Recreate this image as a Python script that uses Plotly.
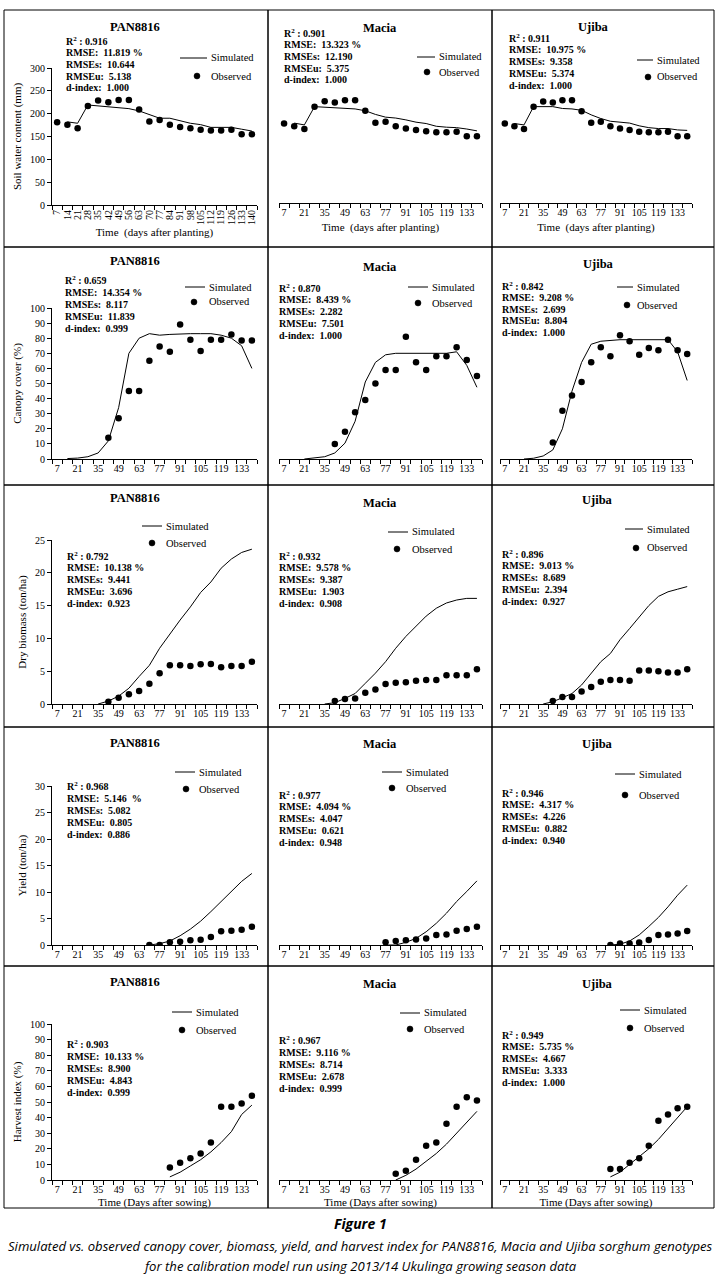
import plotly.graph_objects as go

# ---------------- DATA ----------------
sw_days = [7, 14, 21, 28, 35, 42, 49, 56, 63, 70, 77, 84, 91, 98, 105, 112, 119, 126, 133, 140]
sw_sim_days = [14, 21, 28, 35, 42, 49, 56, 63, 70, 77, 84, 91, 98, 105, 112, 119, 126, 133, 140]
sw_pan_obs = [181, 176, 168, 217, 229, 225, 230, 230, 209, 183, 186, 176, 171, 168, 165, 163, 163, 165, 155, 155]
sw_pan_sim = [182, 179, 219, 217, 216, 214, 211, 206, 198, 190, 190, 184, 179, 176, 170, 170, 170, 166, 162]
sw_mac_obs = [174, 168, 162, 211, 223, 220, 225, 225, 202, 176, 178, 168, 163, 160, 157, 155, 155, 156, 146, 146]
sw_mac_sim = [175, 171, 211, 210, 209, 207, 206, 202, 194, 188, 186, 182, 177, 174, 168, 166, 165, 162, 158]
sw_uji_obs = [174, 168, 162, 211, 222, 220, 225, 225, 201, 176, 178, 168, 163, 160, 156, 155, 155, 156, 146, 146]
sw_uji_sim = [174, 171, 211, 211, 211, 207, 206, 203, 193, 185, 179, 177, 175, 169, 165, 163, 163, 160, 159]

cc_obs_days = [42, 49, 56, 63, 70, 77, 84, 91, 98, 105, 112, 119, 126, 133, 140]
cc_sim_days_pan = [14, 21, 28, 35, 42, 49, 56, 63, 70, 77, 84, 91, 98, 105, 112, 119, 126, 133, 140]
cc_sim_days = [21, 28, 35, 42, 49, 56, 63, 70, 77, 84, 91, 98, 105, 112, 119, 126, 133, 140]
cc_pan_obs = [14, 27, 45, 45, 65, 74.5, 71, 89, 79, 71.5, 79, 79, 82.5, 78.5, 78.5]
cc_pan_sim = [0.3, 0.6, 1.5, 4, 12, 34, 70, 80, 83, 82, 82.5, 83, 83, 83, 83, 82, 80, 75, 60]
cc_mac_obs = [10, 18, 31, 39, 50, 59, 59, 81, 64, 59, 68, 68, 74, 65.5, 55]
cc_mac_sim = [0, 0.5, 1.5, 4, 10.5, 25, 51, 64, 69, 70, 70, 70, 70, 70, 70, 71, 62, 47.5]
cc_uji_obs = [11, 32, 42, 51, 64, 74, 68, 82, 78, 69, 73.5, 72, 79, 72, 69.5]
cc_uji_sim = [0, 0.5, 2, 6, 20, 45, 64, 76, 78, 78.5, 79, 79, 79, 79, 79, 79, 71, 52]

bm_obs_days = [42, 49, 56, 63, 70, 77, 84, 91, 98, 105, 112, 119, 126, 133, 140]
bm_sim_days = [35, 42, 49, 56, 63, 70, 77, 84, 91, 98, 105, 112, 119, 126, 133, 140]
bm_pan_obs = [0.35, 0.95, 1.5, 2.0, 3.1, 4.7, 5.9, 5.9, 5.8, 6.05, 6.1, 5.6, 5.8, 5.8, 6.45]
bm_pan_sim = [0, 0.45, 1.2, 2.4, 4.2, 5.9, 8.5, 10.7, 12.8, 14.8, 17.0, 18.6, 20.7, 22.1, 23.1, 23.6]
bm_mac_obs = [0.45, 0.75, 0.85, 1.7, 2.2, 3.05, 3.25, 3.3, 3.55, 3.65, 3.65, 4.4, 4.4, 4.4, 5.3]
bm_mac_sim = [0, 0.2, 0.85, 1.6, 3.15, 4.7, 6.45, 8.5, 10.3, 11.8, 13.4, 14.6, 15.4, 15.85, 16.1, 16.1]
bm_uji_obs = [0.45, 1.05, 1.05, 1.9, 2.6, 3.4, 3.65, 3.65, 3.55, 5.1, 5.1, 5.0, 4.8, 4.8, 5.3]
bm_uji_sim = [0, 0.35, 0.95, 1.6, 2.9, 4.7, 6.45, 7.7, 9.8, 11.5, 13.3, 15.0, 16.4, 17.1, 17.5, 17.9]

yd_pan_days = [70, 77, 84, 91, 98, 105, 112, 119, 126, 133, 140]
yd_mac_days = [77, 84, 91, 98, 105, 112, 119, 126, 133, 140]
yd_uji_days = [84, 91, 98, 105, 112, 119, 126, 133, 140]
yd_pan_obs = [0, 0, 0.5, 0.6, 0.9, 1.0, 1.5, 2.6, 2.7, 2.9, 3.45]
yd_pan_sim = [0, 0.25, 0.75, 1.75, 3.0, 4.5, 6.3, 8.2, 10.1, 12.0, 13.5]
yd_mac_obs = [0.5, 0.75, 0.9, 1.05, 1.25, 1.9, 2.0, 2.7, 3.0, 3.45]
yd_mac_sim = [0, 0, 0.5, 1.25, 2.5, 4.1, 6.0, 8.2, 10.1, 12.1]
yd_uji_obs = [0, 0.3, 0.3, 0.45, 0.95, 1.9, 2.0, 2.15, 2.65]
yd_uji_sim = [0, 0.15, 0.75, 1.9, 3.5, 5.2, 7.2, 9.4, 11.3]

hi_days = [84, 91, 98, 105, 112, 119, 126, 133, 140]
hi_pan_obs = [8, 11, 14, 17, 24, 47, 47, 49, 54]
hi_pan_sim = [2, 5, 9, 13, 18, 24, 31, 42, 48]
hi_mac_obs = [4, 6, 13, 22, 24, 36, 47, 53, 51]
hi_mac_sim = [0, 3, 7, 12, 17, 23, 30, 37, 44]
hi_uji_obs = [7, 7, 11, 14, 22, 38, 42, 46, 47]
hi_uji_sim = [2, 5, 10, 15, 20, 26, 33, 40, 47]

genotypes = ["PAN8816", "Macia", "Ujiba"]
stats = {
    (0, 0): ["0.916", "11.819 %", "10.644", "5.138", "1.000"],
    (0, 1): ["0.901", "13.323 %", "12.190", "5.375", "1.000"],
    (0, 2): ["0.911", "10.975 %", "9.358", "5.374", "1.000"],
    (1, 0): ["0.659", "14.354 %", "8.117", "11.839", "0.999"],
    (1, 1): ["0.870", "8.439 %", "2.282", "7.501", "1.000"],
    (1, 2): ["0.842", "9.208 %", "2.699", "8.804", "1.000"],
    (2, 0): ["0.792", "10.138 %", "9.441", "3.696", "0.923"],
    (2, 1): ["0.932", "9.578 %", "9.387", "1.903", "0.908"],
    (2, 2): ["0.896", "9.013 %", "8.689", "2.394", "0.927"],
    (3, 0): ["0.968", "5.146  %", "5.082", "0.805", "0.886"],
    (3, 1): ["0.977", "4.094 %", "4.047", "0.621", "0.948"],
    (3, 2): ["0.946", "4.317 %", "4.226", "0.882", "0.940"],
    (4, 0): ["0.903", "10.133 %", "8.900", "4.843", "0.999"],
    (4, 1): ["0.967", "9.116 %", "8.714", "2.678", "0.999"],
    (4, 2): ["0.949", "5.735 %", "4.667", "3.333", "1.000"],
}
y_titles = ["Soil water content (mm)", "Canopy cover (%)", "Dry biomass (ton/ha)", "Yield (ton/ha)", "Harvest index (%)"]
y_ranges = [(0, 300, 50), (0, 100, 10), (0, 25, 5), (0, 30, 5), (0, 100, 10)]
x_label_days = [7, 21, 35, 49, 63, 77, 91, 105, 119, 133]
legend_names = ["Simulated", "Observed"]

series = [
    [(sw_days, sw_pan_obs, sw_sim_days, sw_pan_sim), (sw_days, sw_mac_obs, sw_sim_days, sw_mac_sim), (sw_days, sw_uji_obs, sw_sim_days, sw_uji_sim)],
    [(cc_obs_days, cc_pan_obs, cc_sim_days_pan, cc_pan_sim), (cc_obs_days, cc_mac_obs, cc_sim_days, cc_mac_sim), (cc_obs_days, cc_uji_obs, cc_sim_days, cc_uji_sim)],
    [(bm_obs_days, bm_pan_obs, bm_sim_days, bm_pan_sim), (bm_obs_days, bm_mac_obs, bm_sim_days, bm_mac_sim), (bm_obs_days, bm_uji_obs, bm_sim_days, bm_uji_sim)],
    [(yd_pan_days, yd_pan_obs, yd_pan_days, yd_pan_sim), (yd_mac_days, yd_mac_obs, yd_mac_days, yd_mac_sim), (yd_uji_days, yd_uji_obs, yd_uji_days, yd_uji_sim)],
    [(hi_days, hi_pan_obs, hi_days, hi_pan_sim), (hi_days, hi_mac_obs, hi_days, hi_mac_sim), (hi_days, hi_uji_obs, hi_days, hi_uji_sim)],
]

# ---------------- LAYOUT (pixels) ----------------
W, H = 720, 1284
def px(x): return x / W
def py(y): return 1 - y / H

SERIF = "Liberation Serif"
col_x = [(52, 257), (279, 482), (500, 692)]
row_y = [(68, 205), (308, 459), (540, 704), (786, 945), (1024, 1180)]
row_y_mac = [(66, 203), (308, 459), (540, 704), (786, 945), (1024, 1180)]
box_x = [4, 268, 492, 714]
box_y = [10, 247, 485, 727, 966, 1208]

titles = [[(135, 27), (380, 28), (593, 27)],
          [(135, 261), (380, 267), (598, 264)],
          [(135, 498), (380, 503), (597, 500)],
          [(135, 743), (380, 744), (597, 744)],
          [(135, 982), (380, 984), (597, 984)]]
stat_pos = [[(64, 41, 11.7), (282, 33, 11.7), (507, 38, 11.8)],
            [(63, 280, 12.0), (277, 288, 11.8), (500, 286, 11.6)],
            [(65, 556, 11.8), (277, 556, 11.8), (500, 554, 11.8)],
            [(65, 786, 12.2), (277, 795, 11.8), (500, 793, 11.8)],
            [(65, 1044, 12.0), (277, 1040, 12.0), (500, 1035, 11.8)]]
# legend: line x0, line x1, line y, text x, dot x, dot y
leg_pos = [[(180, 207, 58, 209, 197, 76), (417, 435, 57, 437, 427, 72), (637, 653, 60, 655, 648, 77)],
           [(185, 205, 287, 207, 194, 302), (408, 428, 287, 430, 418, 303), (617, 633, 287, 635, 627, 305)],
           [(142, 162, 526, 164, 152, 543), (388, 408, 532, 410, 397, 549), (625, 643, 529, 645, 636, 548)],
           [(175, 195, 772, 197, 186, 789), (382, 402, 772, 404, 392, 788), (615, 635, 774, 637, 625, 795)],
           [(172, 192, 1012, 194, 182, 1030), (400, 420, 1013, 422, 410, 1029), (620, 640, 1010, 642, 630, 1028)]]

fig = go.Figure()
annotations = []
shapes = []
k = 0
for r in range(5):
    for c in range(3):
        k += 1
        xa = "x" if k == 1 else f"x{k}"
        ya = "y" if k == 1 else f"y{k}"
        od, ov, sd, sv = series[r][c]
        fig.add_trace(go.Scatter(x=sd, y=sv, mode="lines", name=legend_names[0],
                                 line=dict(color="black", width=1), xaxis=xa, yaxis=ya, showlegend=False))
        fig.add_trace(go.Scatter(x=od, y=ov, mode="markers", name=legend_names[1],
                                 marker=dict(color="black", size=6.5), xaxis=xa, yaxis=ya, showlegend=False))
        yr = row_y[r] if c == 0 else row_y_mac[r]
        x0, x1 = col_x[c]
        if r == 0 and c == 0:
            tv, tt, ang = sw_days, [str(d) for d in sw_days], -90
        else:
            tv, tt, ang = x_label_days, [str(d) for d in x_label_days], 0
        xkey = "xaxis" if k == 1 else f"xaxis{k}"
        ykey = "yaxis" if k == 1 else f"yaxis{k}"
        xaxis = dict(domain=[px(x0), px(x1)], range=[3.5, 143.5], anchor=ya,
                     tickmode="array", tickvals=tv, ticktext=tt, tickangle=ang, ticks="",
                     showline=True, linecolor="black", linewidth=1, showgrid=False, zeroline=False,
                     tickfont=dict(family=SERIF, size=10, color="black"),
                     minor=dict(ticks="outside", ticklen=4, tickmode="linear", tick0=3.5, dtick=7,
                                tickcolor="black", tickwidth=1, showgrid=False),
                     automargin=False, fixedrange=True)
        if r == 0:
            xaxis["title"] = dict(text="Time  (days after planting)", font=dict(family=SERIF, size=11, color="black"),
                                  standoff=6 if c else 4)
        if r == 4:
            xaxis["title"] = dict(text="Time (Days after sowing)", font=dict(family=SERIF, size=11, color="black"),
                                  standoff=4)
        lo, hi, dt = y_ranges[r]
        yaxis = dict(domain=[py(yr[1]), py(yr[0])], range=[lo, hi], anchor=xa,
                     tickmode="linear", tick0=lo, dtick=dt, ticks="outside", ticklen=4,
                     tickcolor="black", showline=True, linecolor="black", linewidth=1,
                     showgrid=False, zeroline=False,
                     tickfont=dict(family=SERIF, size=10, color="black"),
                     automargin=False, fixedrange=True)
        if c == 0:
            yaxis["title"] = dict(text=y_titles[r], font=dict(family=SERIF, size=11, color="black"), standoff=6)
        else:
            yaxis["visible"] = False
        fig.update_layout({xkey: xaxis, ykey: yaxis})

        # legend (key symbols + labels)
        lx0, lx1, ly, ltx, dx, dy = leg_pos[r][c]
        shapes.append(dict(type="line", xref="paper", yref="paper", x0=px(lx0), x1=px(lx1), y0=py(ly), y1=py(ly),
                           line=dict(color="black", width=1)))
        shapes.append(dict(type="circle", xref="paper", yref="paper", x0=px(dx - 3), x1=px(dx + 3),
                           y0=py(dy + 3), y1=py(dy - 3), line=dict(color="black", width=0.5), fillcolor="black"))
        annotations.append(dict(text=legend_names[0], x=px(ltx), y=py(ly), xref="paper", yref="paper",
                                showarrow=False, xanchor="left", yanchor="middle",
                                font=dict(family=SERIF, size=10.5, color="black")))
        annotations.append(dict(text=legend_names[1], x=px(ltx), y=py(dy), xref="paper", yref="paper",
                                showarrow=False, xanchor="left", yanchor="middle",
                                font=dict(family=SERIF, size=10.5, color="black")))

        tx, ty = titles[r][c]
        annotations.append(dict(text=f"<b>{genotypes[c]}</b>", x=px(tx), y=py(ty), xref="paper", yref="paper",
                                showarrow=False, xanchor="center", yanchor="middle",
                                font=dict(family=SERIF, size=12.5, color="black")))
        sx, sy, sp = stat_pos[r][c]
        st = stats[(r, c)]
        lines = [f"R<sup>2</sup> : {st[0]}", f"RMSE:  {st[1]}", f"RMSEs:  {st[2]}",
                 f"RMSEu:  {st[3]}", f"d-index:  {st[4]}"]
        for i, ln in enumerate(lines):
            annotations.append(dict(text=f"<b>{ln}</b>", x=px(sx), y=py(sy + i * sp), xref="paper", yref="paper",
                                    showarrow=False, xanchor="left", yanchor="middle",
                                    font=dict(family=SERIF, size=10, color="black")))

# panel boxes
for r in range(5):
    for c in range(3):
        shapes.append(dict(type="rect", xref="paper", yref="paper",
                           x0=px(box_x[c]), x1=px(box_x[c + 1]), y0=py(box_y[r + 1]), y1=py(box_y[r]),
                           line=dict(color="black", width=1), fillcolor="rgba(0,0,0,0)"))

# caption
CAP = "Open Sans"
annotations.append(dict(text="<b><i>Figure 1</i></b>", x=0.5, y=py(1223), xref="paper", yref="paper",
                        showarrow=False, xanchor="center", yanchor="middle",
                        font=dict(family=CAP, size=14, color="black")))
annotations.append(dict(text="<i>Simulated vs. observed canopy cover, biomass, yield, and harvest index for PAN8816, Macia and Ujiba sorghum genotypes</i>",
                        x=0.5, y=py(1246), xref="paper", yref="paper", showarrow=False,
                        xanchor="center", yanchor="middle", font=dict(family=CAP, size=13.1, color="black")))
annotations.append(dict(text="<i>for the calibration model run using 2013/14 Ukulinga growing season data</i>",
                        x=0.5, y=py(1266), xref="paper", yref="paper", showarrow=False,
                        xanchor="center", yanchor="middle", font=dict(family=CAP, size=13.1, color="black")))

fig.update_layout(width=W, height=H, margin=dict(l=0, r=0, t=0, b=0),
                  paper_bgcolor="white", plot_bgcolor="white",
                  annotations=annotations, shapes=shapes, showlegend=False,
                  font=dict(family=SERIF, color="black"))
fig.write_html("out.html", config={"displayModeBar": False},
               post_script="document.body.style.margin='0';")
